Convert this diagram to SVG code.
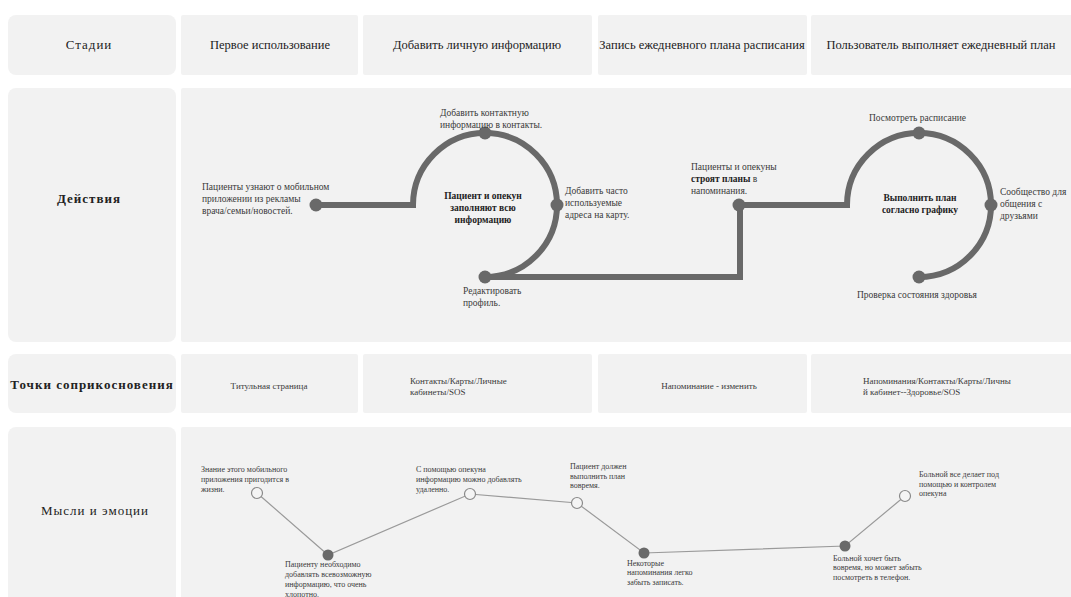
<svg xmlns="http://www.w3.org/2000/svg" width="1071" height="597" viewBox="0 0 1071 597">
<style>
  .cell { fill: #f2f2f2; }
  .lab { font-family: "Liberation Serif", "Times New Roman", "DejaVu Serif", serif; font-size: 13px; fill: #222; text-anchor: middle; letter-spacing: 1px; }
  .hdr { font-family: "Liberation Serif", "Times New Roman", "DejaVu Serif", serif; font-size: 12.5px; fill: #222; text-anchor: middle; }
  .t { font-family: "Liberation Serif", "Times New Roman", "DejaVu Serif", serif; font-size: 9.5px; fill: #3a3a3a; }
  .tb { font-family: "Liberation Serif", "Times New Roman", "DejaVu Serif", serif; font-size: 9.5px; fill: #222; font-weight: bold; text-anchor: middle; }
  .tp { font-family: "Liberation Serif", "Times New Roman", "DejaVu Serif", serif; font-size: 9px; fill: #3a3a3a; }
  .e { font-family: "Liberation Serif", "Times New Roman", "DejaVu Serif", serif; font-size: 8px; fill: #3a3a3a; }
  .track { fill: none; stroke: #696969; stroke-width: 6; }
  .dot { fill: #696969; }
  .eline { fill: none; stroke: #9a9a9a; stroke-width: 1.2; }
  .ho { fill: #f4f4f4; stroke: #8a8a8a; stroke-width: 1.2; }
  .fi { fill: #6a6a6a; }
</style>
<rect width="1071" height="597" fill="#ffffff"/>

<!-- Row 1: stages -->
<g id="row-stages">
  <rect class="cell" x="8" y="15" width="168" height="60" rx="8"/>
  <text class="lab" x="89" y="49">Стадии</text>
  <rect class="cell" x="181" y="15" width="177" height="60" rx="2"/>
  <text class="hdr" x="270" y="49">Первое использование</text>
  <rect class="cell" x="363" y="15" width="229" height="60" rx="2"/>
  <text class="hdr" x="477" y="49">Добавить личную информацию</text>
  <rect class="cell" x="598" y="15" width="209" height="60" rx="2"/>
  <text class="hdr" x="702" y="49">Запись ежедневного плана расписания</text>
  <rect class="cell" x="811" y="15" width="270" height="60" rx="2"/>
  <text class="hdr" x="941" y="49">Пользователь выполняет ежедневный план</text>
</g>

<!-- Row 2: actions -->
<g id="row-actions">
  <rect class="cell" x="8" y="88" width="168" height="254" rx="8"/>
  <text class="lab" x="89" y="203" font-weight="bold">Действия</text>
  <rect class="cell" x="181" y="88" width="900" height="254" rx="2"/>
</g>

<!-- Row 3: touchpoints -->
<g id="row-touchpoints">
  <rect class="cell" x="8" y="354" width="168" height="59" rx="8"/>
  <text class="lab" x="92" y="389" font-weight="bold">Точки соприкосновения</text>
  <rect class="cell" x="181" y="354" width="177" height="59" rx="2"/>
  <text class="tp" x="269" y="389" text-anchor="middle">Титульная страница</text>
  <rect class="cell" x="363" y="354" width="229" height="59" rx="2"/>
  <text class="tp"><tspan x="410" y="384">Контакты/Карты/Личные</tspan><tspan x="410" y="395">кабинеты/SOS</tspan></text>
  <rect class="cell" x="598" y="354" width="209" height="59" rx="2"/>
  <text class="tp" x="709" y="389" text-anchor="middle">Напоминание - изменить</text>
  <rect class="cell" x="811" y="354" width="270" height="59" rx="2"/>
  <text class="tp"><tspan x="863" y="384">Напоминания/Контакты/Карты/Личны</tspan><tspan x="863" y="395">й кабинет--Здоровье/SOS</tspan></text>
</g>

<!-- Row 4: thoughts and emotions -->
<g id="row-emotions">
  <rect class="cell" x="8" y="427" width="168" height="190" rx="8"/>
  <text class="lab" x="95" y="515">Мысли и эмоции</text>
  <rect class="cell" x="181" y="427" width="900" height="190" rx="2"/>
</g>

<g id="connectors">
  <path class="track" d="M 316 205 H 413 A 72 72 0 1 1 485 277 H 740 V 205 H 847 A 72 72 0 1 1 919 277"/>
  <polyline class="eline" points="257,493 328,555 470,494 577,503 644,553 845,546 905,496"/>
</g>

<g id="action-nodes">
  <g id="a1"><circle class="dot" cx="316" cy="205" r="6.5"/>
    <text class="t"><tspan x="202" y="190">Пациенты узнают о мобильном</tspan><tspan x="202" y="202">приложении из рекламы</tspan><tspan x="202" y="214">врача/семьи/новостей.</tspan></text></g>
  <g id="a2"><circle class="dot" cx="485" cy="133" r="6.5"/>
    <text class="t"><tspan x="440" y="116">Добавить контактную</tspan><tspan x="440" y="128">информацию в контакты.</tspan></text></g>
  <g id="a3"><circle class="dot" cx="557" cy="205" r="6.5"/>
    <text class="t"><tspan x="565" y="194">Добавить часто</tspan><tspan x="565" y="206">используемые</tspan><tspan x="565" y="218">адреса на карту.</tspan></text></g>
  <g id="a4"><circle class="dot" cx="485" cy="277" r="6.5"/>
    <text class="t"><tspan x="463" y="294">Редактировать</tspan><tspan x="463" y="306">профиль.</tspan></text></g>
  <g id="a-center1">
    <text class="tb"><tspan x="483" y="199">Пациент и опекун</tspan><tspan x="483" y="211">заполняют всю</tspan><tspan x="483" y="223">информацию</tspan></text></g>
  <g id="a5"><circle class="dot" cx="739" cy="205" r="6.5"/>
    <text class="t"><tspan x="691" y="170">Пациенты и опекуны</tspan><tspan x="691" y="182" font-weight="bold" fill="#222">строят планы</tspan><tspan> в</tspan><tspan x="691" y="194">напоминания.</tspan></text></g>
  <g id="a6"><circle class="dot" cx="919" cy="133" r="6.5"/>
    <text class="t"><tspan x="869" y="121">Посмотреть расписание</tspan></text></g>
  <g id="a7"><circle class="dot" cx="991" cy="205" r="6.5"/>
    <text class="t"><tspan x="1000" y="195">Сообщество для</tspan><tspan x="1000" y="207">общения с</tspan><tspan x="1000" y="219">друзьями</tspan></text></g>
  <g id="a8"><circle class="dot" cx="919" cy="277" r="6.5"/>
    <text class="t"><tspan x="857" y="298">Проверка состояния здоровья</tspan></text></g>
  <g id="a-center2">
    <text class="tb"><tspan x="920" y="201">Выполнить план</tspan><tspan x="920" y="213">согласно графику</tspan></text></g>
</g>

<g id="emotion-nodes">
  <g id="e1"><circle class="ho" cx="257" cy="493" r="5.5"/>
    <text class="e"><tspan x="201" y="472">Знание этого мобильного</tspan><tspan x="201" y="482">приложения пригодится в</tspan><tspan x="201" y="492">жизни.</tspan></text></g>
  <g id="e2"><circle class="fi" cx="328" cy="555" r="5.5"/>
    <text class="e"><tspan x="285" y="567">Пациенту необходимо</tspan><tspan x="285" y="577">добавлять всевозможную</tspan><tspan x="285" y="587">информацию, что очень</tspan><tspan x="285" y="597">хлопотно.</tspan></text></g>
  <g id="e3"><circle class="ho" cx="470" cy="494" r="5.5"/>
    <text class="e"><tspan x="416" y="472">С помощью опекуна</tspan><tspan x="416" y="482">информацию можно добавлять</tspan><tspan x="416" y="492">удаленно.</tspan></text></g>
  <g id="e4"><circle class="ho" cx="577" cy="503" r="5.5"/>
    <text class="e"><tspan x="570" y="469">Пациент должен</tspan><tspan x="570" y="479">выполнить план</tspan><tspan x="570" y="488">вовремя.</tspan></text></g>
  <g id="e5"><circle class="fi" cx="644" cy="553" r="5.5"/>
    <text class="e"><tspan x="627" y="566">Некоторые</tspan><tspan x="627" y="575">напоминания легко</tspan><tspan x="627" y="585">забыть записать.</tspan></text></g>
  <g id="e6"><circle class="fi" cx="845" cy="546" r="5.5"/>
    <text class="e"><tspan x="833" y="561">Больной хочет быть</tspan><tspan x="833" y="570">вовремя, но может забыть</tspan><tspan x="833" y="580">посмотреть в телефон.</tspan></text></g>
  <g id="e7"><circle class="ho" cx="905" cy="496" r="5.5"/>
    <text class="e"><tspan x="919" y="477">Больной все делает под</tspan><tspan x="919" y="487">помощью и контролем</tspan><tspan x="919" y="496">опекуна</tspan></text></g>
</g>
</svg>
